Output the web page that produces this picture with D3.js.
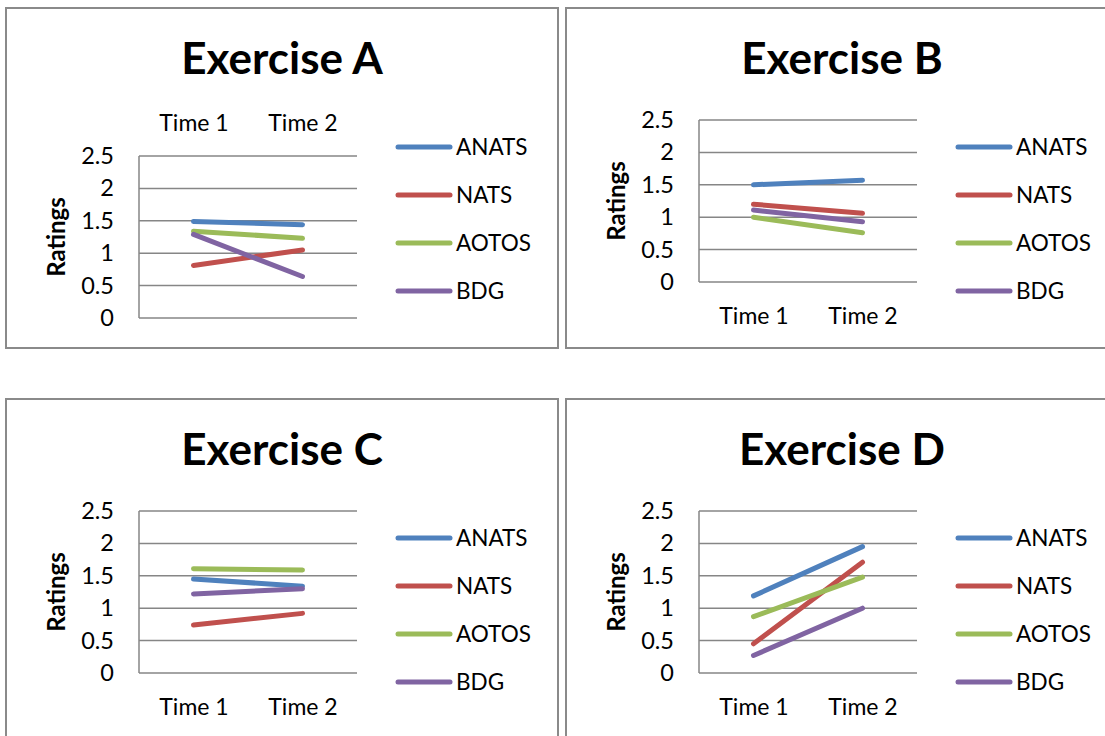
<!DOCTYPE html>
<meta charset="utf-8">
<title>Exercise ratings</title>
<style>
body {
  margin: 0px;
  background: #fff;
  font-family: Lato, "Open Sans", sans-serif;
}
.grid line { stroke: #868686; stroke-width: 1.5; }
.frame { fill: #fff; stroke: #8a8a8a; stroke-width: 2; }
</style>
<body>
<script src="https://cdn.jsdelivr.net/npm/d3@7"></script>
<script>

var categories = ["Time 1", "Time 2"];
var seriesNames = ["ANATS", "NATS", "AOTOS", "BDG"];
var seriesColors = ["#4f81bd", "#c0504d", "#9bbb59", "#8064a2"];
var titles = ["Exercise A", "Exercise B", "Exercise C", "Exercise D"];
var yTicks = [0, 0.5, 1, 1.5, 2, 2.5];

// values per series: [Time 1, Time 2]
var exerciseA = [[1.49, 1.44], [0.81, 1.05], [1.34, 1.23], [1.29, 0.64]];
var exerciseB = [[1.50, 1.57], [1.20, 1.06], [1.00, 0.76], [1.11, 0.93]];
var exerciseC = [[1.45, 1.34], [0.74, 0.92], [1.61, 1.59], [1.22, 1.30]];
var exerciseD = [[1.19, 1.95], [0.45, 1.71], [0.87, 1.48], [0.27, 1.00]];
var allData = [exerciseA, exerciseB, exerciseC, exerciseD];

var svg = d3.select("body").append("svg")
    .attr("width", 1105)
    .attr("height", 736);

// panel A has its category labels on top, the others below
var panels = [
  {x: 6,   y: 8,   top: true},
  {x: 566, y: 8,   top: false},
  {x: 6,   y: 399, top: false},
  {x: 566, y: 399, top: false}
];

panels.forEach(function(p, i) {
  var g = svg.append("g").attr("transform", "translate(" + p.x + "," + p.y + ")");
  g.append("rect").attr("class", "frame")
      .attr("width", 552).attr("height", 340);

  var plotTop = p.top ? 148 : 112;
  var x = d3.scalePoint().domain(categories).range([133, 351]).padding(0.5);
  var y = d3.scaleLinear().domain([0, 2.5]).range([plotTop + 162, plotTop]);

  g.append("text")
      .attr("x", 276).attr("y", 66)
      .attr("text-anchor", "middle")
      .style("font-weight", "bold").style("font-size", "44px")
      .text(titles[i]);

  // gridlines
  g.append("g").attr("class", "grid")
    .selectAll("line").data(yTicks).enter().append("line")
      .attr("x1", 133).attr("x2", 351)
      .attr("y1", function(d) { return y(d); })
      .attr("y2", function(d) { return y(d); });
  g.append("line")
      .attr("x1", 133).attr("x2", 133)
      .attr("y1", y(0)).attr("y2", y(2.5))
      .style("stroke", "#868686").style("stroke-width", 1.5);

  var yAxis = g.append("g")
      .attr("transform", "translate(108,0)")
      .call(d3.axisLeft(y).tickValues(yTicks).tickSize(0).tickPadding(0)
        .tickFormat(d3.format("")));
  yAxis.select(".domain").remove();
  yAxis.selectAll("text").style("font-size", "23.5px")
      .style("font-family", "Lato, sans-serif").attr("fill", "#000");

  var xAxis = g.append("g")
      .attr("transform", "translate(0," + (p.top ? 115 : 308) + ")")
      .call(d3.axisBottom(x).tickSize(0).tickPadding(0));
  xAxis.select(".domain").remove();
  xAxis.selectAll("text").attr("dy", "0.35em").style("font-size", "23px")
      .style("font-family", "Lato, sans-serif").attr("fill", "#000");

  g.append("text")
      .attr("transform", "translate(51," + (plotTop + 81) + ") rotate(-90)")
      .attr("text-anchor", "middle").attr("dy", "0.35em")
      .style("font-weight", "bold").style("font-size", "24px")
      .text("Ratings");

  var line = d3.line()
      .x(function(d, k) { return x(categories[k]); })
      .y(function(d) { return y(d); });

  g.selectAll("path.series").data(allData[i]).enter().append("path")
      .attr("class", "series")
      .attr("d", line)
      .attr("fill", "none")
      .attr("stroke", function(d, k) { return seriesColors[k]; })
      .attr("stroke-width", 5)
      .attr("stroke-linecap", "round");

  var legend = g.selectAll("g.legend").data(seriesNames).enter().append("g")
      .attr("class", "legend")
      .attr("transform", function(d, k) { return "translate(0," + (139 + k * 48) + ")"; });
  legend.append("line")
      .attr("x1", 392).attr("x2", 444)
      .attr("stroke", function(d, k) { return seriesColors[k]; })
      .attr("stroke-width", 5).attr("stroke-linecap", "round");
  legend.append("text")
      .attr("x", 450).attr("dy", "0.35em")
      .style("font-size", "22.5px")
      .text(function(d) { return d; });
});

</script>
